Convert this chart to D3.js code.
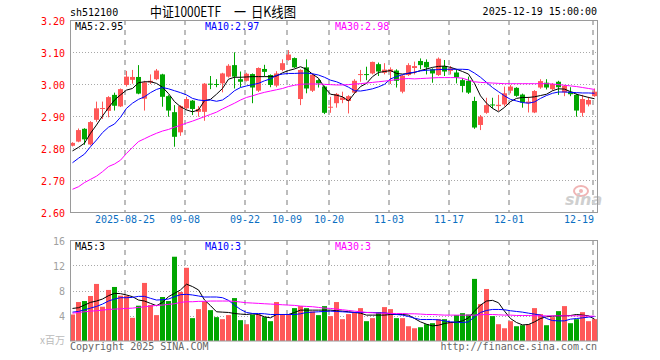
<!DOCTYPE html>
<html>
<head>
<meta charset="utf-8">
<script src="https://cdn.jsdelivr.net/npm/d3@7"></script>
<style>
body { margin: 0; background: #fff; }
svg { display: block; font-family: "DejaVu Sans Mono", monospace; font-size: 10px; }
</style>
</head>
<body>
<div id="chart"></div>
<script>
// trading days, 2025-08-12 .. 2025-12-19
const dates = [
  "08-12","08-13","08-14","08-15","08-18","08-19","08-20","08-21","08-22",
  "08-25","08-26","08-27","08-28","08-29",
  "09-01","09-02","09-03","09-04","09-05","09-08","09-09","09-10","09-11","09-12",
  "09-15","09-16","09-17","09-18","09-19","09-22","09-23","09-24","09-25","09-26","09-29","09-30",
  "10-09","10-10","10-13","10-14","10-15","10-16","10-17","10-20","10-21","10-22","10-23","10-24",
  "10-27","10-28","10-29","10-30","10-31",
  "11-03","11-04","11-05","11-06","11-07","11-10","11-11","11-12","11-13","11-14",
  "11-17","11-18","11-19","11-20","11-21","11-24","11-25","11-26","11-27","11-28",
  "12-01","12-02","12-03","12-04","12-05","12-08","12-09","12-10","12-11","12-12",
  "12-15","12-16","12-17","12-18","12-19"
];

const open = [2.807,2.820,2.860,2.811,2.888,2.922,2.916,2.966,2.930,2.997,3.013,3.022,2.954,3.005,3.015,3.030,2.962,2.912,2.849,2.924,
  2.948,2.913,2.913,3.001,3.000,3.002,3.023,3.059,3.015,3.010,3.031,2.979,3.047,3.028,2.995,3.044,3.075,3.081,2.953,3.052,
  2.979,3.012,2.992,2.926,2.940,2.950,2.947,2.973,3.029,3.031,3.033,3.062,3.035,3.038,3.042,2.976,3.028,3.050,3.072,3.069,
  3.046,3.028,3.056,3.041,3.036,3.012,3.010,2.947,2.872,2.910,2.936,2.931,2.936,2.979,2.988,2.967,2.940,2.911,2.989,3.004,
  2.984,3.007,2.974,2.976,2.966,2.910,2.936,2.962];
const high = [2.818,2.861,2.862,2.884,2.945,2.945,2.962,2.973,2.986,3.041,3.044,3.059,3.010,3.030,3.047,3.032,2.965,2.934,2.934,2.960,
  2.950,2.931,3.003,3.025,3.015,3.035,3.062,3.099,3.039,3.035,3.033,3.052,3.060,3.030,3.040,3.077,3.106,3.083,3.046,3.077,
  3.032,3.015,2.995,2.960,2.972,2.976,2.965,3.015,3.044,3.054,3.070,3.067,3.065,3.052,3.046,3.028,3.065,3.070,3.080,3.077,
  3.049,3.083,3.075,3.056,3.046,3.018,3.023,2.960,2.903,2.957,2.957,2.966,2.992,2.997,2.990,2.970,2.960,2.981,3.015,3.015,
  3.003,3.010,2.997,2.990,2.970,2.966,2.960,2.986];
const low = [2.805,2.818,2.810,2.808,2.882,2.891,2.896,2.917,2.928,2.992,3.001,2.968,2.917,3.000,3.012,2.929,2.898,2.804,2.838,2.920,
  2.903,2.898,2.885,2.984,2.990,2.974,3.020,2.986,2.990,3.008,2.940,2.975,3.023,2.990,2.990,3.040,3.073,3.050,2.934,2.971,
  2.975,2.989,2.906,2.910,2.926,2.940,2.908,2.970,3.007,3.012,3.030,3.025,3.030,3.000,2.989,2.971,3.025,3.030,3.046,3.030,
  3.004,3.025,3.025,3.030,3.002,2.974,2.969,2.860,2.856,2.907,2.924,2.916,2.930,2.971,2.960,2.926,2.911,2.909,2.985,2.983,
  2.980,2.966,2.962,2.962,2.898,2.898,2.930,2.960];
const close = [2.816,2.856,2.827,2.881,2.924,2.925,2.959,2.932,2.984,3.023,3.022,2.970,3.005,3.010,3.042,2.960,2.917,2.835,2.931,2.953,
  2.922,2.922,3.001,2.999,2.999,3.033,3.057,3.023,3.007,3.032,2.989,3.050,3.038,2.997,3.033,3.065,3.092,3.052,3.044,2.986,
  3.029,3.002,2.910,2.929,2.969,2.958,2.962,3.010,3.031,3.029,3.069,3.039,3.045,3.046,3.010,3.026,3.059,3.056,3.059,3.052,
  3.033,3.079,3.039,3.049,3.021,2.994,2.973,2.864,2.898,2.934,2.934,2.935,2.971,2.992,2.963,2.942,2.945,2.978,3.009,2.989,
  3.000,2.990,2.994,2.968,2.917,2.953,2.950,2.976];

// moving averages as drawn on the chart
const ma5 = [2.791,2.802,2.815,2.846,2.872,2.900,2.926,2.950,2.966,2.981,2.986,3.004,3.007,3.007,3.002,2.990,2.970,2.945,2.929,2.919,
  2.913,2.919,2.948,2.952,2.968,2.986,3.015,3.021,3.021,3.022,3.023,3.023,3.023,3.023,3.025,3.035,3.042,3.047,3.054,3.046,
  3.031,3.018,2.989,2.968,2.965,2.960,2.947,2.971,2.992,3.002,3.023,3.036,3.039,3.042,3.033,3.031,3.033,3.036,3.042,3.047,
  3.052,3.055,3.056,3.052,3.046,3.039,3.031,3.002,2.963,2.940,2.924,2.913,2.927,2.945,2.955,2.958,2.958,2.960,2.964,2.968,
  2.979,2.985,2.984,2.976,2.968,2.963,2.958,2.954];
const ma10 = [2.754,2.768,2.781,2.804,2.825,2.848,2.865,2.875,2.896,2.924,2.940,2.952,2.960,2.973,2.983,2.989,2.985,2.979,2.973,2.966,
  2.955,2.950,2.948,2.950,2.946,2.950,2.963,2.979,2.989,2.994,2.998,3.002,3.010,3.016,3.027,3.031,3.033,3.033,3.034,3.034,
  3.032,3.028,3.021,3.012,3.007,2.999,2.990,2.979,2.978,2.981,2.985,2.991,2.999,3.016,3.023,3.029,3.034,3.037,3.041,3.043,
  3.044,3.045,3.046,3.046,3.046,3.046,3.045,3.034,3.021,3.005,2.989,2.976,2.963,2.952,2.947,2.942,2.940,2.944,2.955,2.964,
  2.971,2.975,2.975,2.974,2.973,2.972,2.972,2.971];
const ma30 = [2.671,2.679,2.692,2.702,2.712,2.726,2.742,2.750,2.762,2.783,2.802,2.820,2.829,2.838,2.846,2.853,2.858,2.865,2.871,2.878,
  2.884,2.891,2.898,2.905,2.912,2.922,2.931,2.940,2.950,2.958,2.963,2.969,2.974,2.978,2.982,2.986,2.992,2.996,2.999,3.000,
  3.000,3.000,2.999,2.998,2.997,2.997,2.998,3.000,3.001,3.003,3.005,3.007,3.009,3.011,3.014,3.016,3.017,3.016,3.017,3.018,
  3.019,3.020,3.020,3.020,3.020,3.018,3.012,3.007,3.005,3.004,3.003,3.002,3.001,3.001,3.001,3.001,3.001,3.001,3.001,3.001,
  3.000,2.998,2.996,2.994,2.992,2.989,2.986,2.983];

// volume, millions
const volume = [4.2,6.17,6.33,7.13,9.04,5.43,8.09,8.56,7.18,7.18,3.67,5.59,9.2,5.69,4.1,6.97,6.33,13.35,7.77,11.6,
  3.62,5.05,6.28,4.89,3.78,3.46,4.1,6.8,3.3,2.66,4.2,4.2,3.78,3.14,6.17,4.2,4.2,5.21,5.53,5.21,
  4.68,4.1,5.53,3.94,6.17,3.46,4.26,4.52,5.21,3.14,3.62,4.57,5.37,5.05,3.62,3.62,2.34,2.02,2.18,2.66,
  2.82,3.46,3.46,3.03,4.1,4.41,4.2,9.84,5.85,8.24,3.94,2.66,2.02,3.14,2.34,2.5,2.66,5.21,4.26,2.5,
  3.78,4.73,5.53,2.82,3.46,4.57,3.14,3.46];
const vma5 = [5.16,5.27,5.69,6.12,6.33,6.65,7.18,7.55,7.5,7.29,7.02,6.49,6.33,5.96,5.59,6.12,7.02,7.55,8.09,9.0,
  8.62,8.09,6.5,5.6,4.63,4.57,4.52,4.36,4.26,4.2,4.31,4.2,3.83,3.67,4.2,4.2,4.2,4.52,4.89,4.89,
  4.89,4.89,4.89,4.89,4.79,4.73,4.63,4.52,4.41,4.1,4.1,4.1,4.1,4.2,4.2,4.2,4.1,3.56,3.03,2.66,
  2.39,2.5,2.77,2.93,2.98,3.19,3.67,4.73,5.69,6.33,6.44,6.06,4.73,3.56,2.93,2.55,2.61,3.03,3.56,3.83,
  3.94,3.99,3.99,4.04,4.2,4.1,3.99,3.46];
const vma10 = [4.57,4.68,4.95,5.21,5.48,5.85,6.33,6.65,6.86,6.86,6.91,7.07,7.07,6.76,6.49,6.54,6.65,7.02,7.34,7.39,
  7.29,7.13,6.97,6.97,6.97,6.86,6.44,5.69,5.0,4.52,4.36,4.36,4.31,4.2,4.2,4.2,4.2,4.2,4.31,4.52,
  4.57,4.63,4.68,4.73,4.68,4.63,4.57,4.52,4.52,4.52,4.52,4.47,4.47,4.31,4.2,4.1,3.88,3.62,3.4,3.4,
  3.4,3.35,3.19,3.03,2.98,2.93,3.03,3.83,4.52,4.84,5.0,5.0,4.95,4.79,4.68,4.57,4.41,4.26,4.1,3.56,
  3.24,3.19,3.19,3.46,3.56,3.67,3.78,3.88];
const vma30 = [4.41,4.52,4.63,4.73,4.79,4.89,5.0,5.05,5.1,5.16,5.21,5.32,5.43,5.53,5.64,5.69,5.8,5.9,6.12,6.22,
  6.22,6.28,6.28,6.33,6.33,6.33,6.33,6.28,6.17,6.06,6.01,5.96,5.9,5.85,5.8,5.74,5.69,5.64,5.53,5.48,
  5.43,5.32,5.21,5.16,5.05,4.95,4.84,4.73,4.63,4.52,4.47,4.41,4.41,4.36,4.36,4.36,4.31,4.31,4.26,4.2,
  4.2,4.15,4.1,4.1,4.1,4.1,4.1,4.1,4.15,4.2,4.2,4.15,4.1,4.1,4.04,4.04,4.04,3.99,3.99,3.99,
  3.99,3.99,3.99,3.99,3.99,3.99,3.94,3.94];

const tickDates = ["08-25","09-08","09-22","10-09","10-20","11-03","11-17","12-01","12-19"];
const tickLabels = ["2025-08-25","09-08","09-22","10-09","10-20","11-03","11-17","12-01","12-19"];
const priceTicks = [2.6, 2.7, 2.8, 2.9, 3.0, 3.1, 3.2];
const volTicks = [4, 8, 12, 16];

const RED = "#ff5858", GREEN = "#00a600";
const maColors = ["#000000", "#0000ff", "#ff00ff"];

const svg = d3.select("#chart").append("svg")
    .attr("width", 660)
    .attr("height", 360);

const plotL = 70, plotR = 597;
const x = d3.scaleBand()
    .domain(d3.range(dates.length))
    .range([plotL, plotR])
    .paddingInner(1 / 6)
    .paddingOuter(0);
const bw = x.bandwidth();
const cx = i => x(i) + bw / 2;

const y = d3.scaleLinear().domain([2.6, 3.2]).range([212, 20]);
const yv = d3.scaleLinear().domain([0, 16]).range([341, 240]);

const tickIdx = tickDates.map(d => dates.indexOf(d));

// ---- header
svg.append("text").attr("x", 70).attr("y", 16).text("sh512100");
const titleFont = t => t.style("font-family", "'Noto Sans CJK SC', sans-serif").style("font-size", "14px");
svg.append("text").attr("x", 150).attr("y", 17)
    .attr("textLength", 71).attr("lengthAdjust", "spacingAndGlyphs")
    .call(titleFont).text("中证1000ETF");
svg.append("text").attr("x", 234).attr("y", 17)
    .attr("textLength", 12).attr("lengthAdjust", "spacingAndGlyphs")
    .call(titleFont).text("一");
svg.append("text").attr("x", 251).attr("y", 17)
    .attr("textLength", 45).attr("lengthAdjust", "spacingAndGlyphs")
    .call(titleFont).text("日K线图");
svg.append("text").attr("x", 597).attr("y", 15).attr("text-anchor", "end")
    .text("2025-12-19 15:00:00");

// ---- panel grids
function panel(yScale, ticks, top, bottom) {
    const g = svg.append("g");
    g.selectAll(".hg").data(ticks.filter(t => yScale(t) > top + 1 && yScale(t) < bottom - 1))
        .join("line")
        .attr("x1", plotL).attr("x2", plotR)
        .attr("y1", d => Math.round(yScale(d)) + 0.5)
        .attr("y2", d => Math.round(yScale(d)) + 0.5)
        .attr("stroke", "#a8a8a8")
        .attr("stroke-dasharray", "1,2");
    g.selectAll(".vg").data(tickIdx)
        .join("line")
        .attr("x1", i => x(i) + 1).attr("x2", i => x(i) + 1)
        .attr("y1", top).attr("y2", bottom)
        .attr("stroke", "#bcbcbc")
        .attr("stroke-width", 2)
        .attr("stroke-dasharray", "5,5");
    return g;
}
panel(y, priceTicks, 20, 212);
panel(yv, volTicks, 240, 341);

// watermark
const wm = svg.append("g");
wm.append("ellipse").attr("cx", 581).attr("cy", 191).attr("rx", 7).attr("ry", 5)
    .attr("fill", "none").attr("stroke", "#f0b4b4").attr("stroke-width", 2);
wm.append("circle").attr("cx", 581).attr("cy", 191).attr("r", 2).attr("fill", "#f0b4b4");
wm.append("text").attr("x", 565).attr("y", 205)
    .style("font-family", "'DejaVu Sans', sans-serif")
    .style("font-size", "16px").style("font-style", "italic").style("font-weight", "bold")
    .attr("fill", "#cfcfcf").text("sina");

// ---- candles
const up = i => close[i] >= open[i];
const cg = svg.append("g");
cg.selectAll(".wick").data(d3.range(dates.length))
    .join("rect")
    .attr("x", i => x(i) + 2)
    .attr("width", 1)
    .attr("y", i => y(high[i]))
    .attr("height", i => Math.max(1, y(low[i]) - y(high[i])))
    .attr("fill", i => up(i) ? RED : GREEN);
cg.selectAll(".body").data(d3.range(dates.length))
    .join("rect")
    .attr("x", i => x(i))
    .attr("width", bw)
    .attr("y", i => y(Math.max(open[i], close[i])))
    .attr("height", i => Math.max(1, Math.abs(y(open[i]) - y(close[i]))))
    .attr("fill", i => up(i) ? RED : GREEN);

// ---- volume bars
svg.append("g").selectAll("rect").data(d3.range(dates.length))
    .join("rect")
    .attr("x", i => x(i))
    .attr("width", bw)
    .attr("y", i => yv(volume[i]))
    .attr("height", i => yv(0) - yv(volume[i]))
    .attr("fill", i => up(i) ? RED : GREEN);

// ---- MA lines
function maLine(series, yScale, color) {
    const line = d3.line().x((d, i) => cx(i)).y(d => yScale(d));
    svg.append("path").datum(series)
        .attr("d", line)
        .attr("fill", "none")
        .attr("stroke", color)
        .attr("stroke-width", 1);
}
[ma5, ma10, ma30].forEach((s, k) => maLine(s, y, maColors[k]));
[vma5, vma10, vma30].forEach((s, k) => maLine(s, yv, maColors[k]));

// ---- frames
svg.append("rect").attr("x", plotL + 0.5).attr("y", 20.5)
    .attr("width", plotR - plotL).attr("height", 192)
    .attr("fill", "none").attr("stroke", "#9a9a9a");
svg.append("rect").attr("x", plotL + 0.5).attr("y", 240.5)
    .attr("width", plotR - plotL).attr("height", 100.5)
    .attr("fill", "none").attr("stroke", "#9a9a9a");

// ---- axes
const yAxis = svg.append("g")
    .attr("transform", `translate(${plotL},1.5)`)
    .call(d3.axisLeft(y).tickValues(priceTicks).tickSize(0).tickPadding(5).tickFormat(d3.format(".2f")));
yAxis.select(".domain").remove();
yAxis.selectAll("text").attr("fill", "#ff0000").style("font-family", "'DejaVu Sans Mono', monospace").style("font-size", "10px");

const vAxis = svg.append("g")
    .attr("transform", `translate(${plotL},1)`)
    .call(d3.axisLeft(yv).tickValues(volTicks).tickSize(0).tickPadding(5));
vAxis.select(".domain").remove();
vAxis.selectAll("text").attr("fill", "#a0a0a0").style("font-family", "'DejaVu Sans Mono', monospace").style("font-size", "10px");

const xAxis = svg.append("g")
    .attr("transform", "translate(-1.5,212)")
    .call(d3.axisBottom(x).tickValues(tickIdx).tickSize(0).tickPadding(4)
        .tickFormat((d, k) => tickLabels[k]));
xAxis.select(".domain").remove();
xAxis.selectAll("text").attr("fill", "#0b6fc2").style("font-family", "'DejaVu Sans Mono', monospace").style("font-size", "10px");
xAxis.selectAll(".tick").filter((d, k) => k === tickIdx.length - 1)
    .select("text").attr("text-anchor", "end").attr("x", plotR - 3 - x(tickIdx[tickIdx.length - 1]) - bw / 2 + 1.5);

// ---- legends
const legendX = [75, 205, 335];
[["MA5:", ma5], ["MA10:", ma10], ["MA30:", ma30]].forEach(([name, s], k) => {
    svg.append("text").attr("x", legendX[k]).attr("y", 30).attr("fill", maColors[k])
        .text(name + s[s.length - 1].toFixed(2));
});
[["MA5:", vma5], ["MA10:", vma10], ["MA30:", vma30]].forEach(([name, s], k) => {
    svg.append("text").attr("x", legendX[k]).attr("y", 250).attr("fill", maColors[k])
        .text(name + Math.floor(s[s.length - 1]));
});

// ---- footer
svg.append("text").attr("x", 65).attr("y", 344).attr("text-anchor", "end")
    .attr("fill", "#bbbbbb").style("font-family", "'Noto Sans CJK SC', sans-serif").style("font-size", "10px")
    .text("x百万");
svg.append("text").attr("x", 70).attr("y", 350).attr("fill", "#666").text("Copyright 2025 SINA.COM");
svg.append("text").attr("x", 597).attr("y", 350).attr("text-anchor", "end").attr("fill", "#666")
    .text("http://finance.sina.com.cn");
</script>
</body>
</html>
